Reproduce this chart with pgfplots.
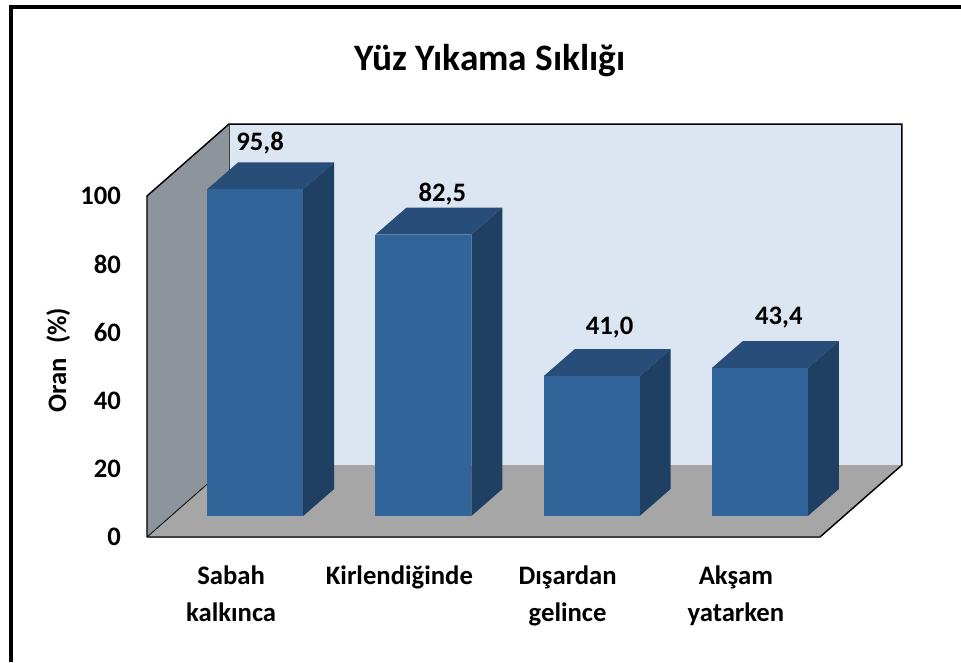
\documentclass[border=0pt]{standalone}
\usepackage{fontspec}
\setmainfont{Carlito}
\usepackage{pgfplots}
\pgfplotsset{compat=1.18}
\definecolor{cWall}{HTML}{DCE6F2}
\definecolor{cSide}{HTML}{8D949B}
\definecolor{cFloor}{HTML}{A6A6A6}
\definecolor{cFront}{HTML}{31659A}
\definecolor{cTop}{HTML}{274D78}
\definecolor{cRight}{HTML}{1F3F63}
\newcommand{\lbl}{\fontsize{20}{28}\selectfont\bfseries}
\pgfplotsset{
  base3d/.style={
    scale only axis, width=504.75pt, height=255.75pt,
    xmin=-0.5, xmax=3.5, ymin=0, ymax=100, clip=false,
  },
  vlabel/.style 2 args={
    ybar, bar width=72pt, bar shift=0pt, fill=cFront, draw=none,
    nodes near coords, nodes near coords style={
      font=\lbl, anchor=center, xshift=#1, yshift=#2, text=black,
      /pgf/number format/.cd, use comma, fixed, fixed zerofill, precision=1, assume math mode=true},
  },
}
\begin{document}
\begin{tikzpicture}
\useasboundingbox (0,0) rectangle (720.75pt,496.5pt);
\fill[black] (6.75pt,0pt) rectangle (9.75pt,492.75pt);
\fill[black] (6.75pt,489.75pt) rectangle (720.75pt,492.75pt);
% frame: walls, floor, ticks
\begin{axis}[base3d, at={(110.25pt,93.75pt)}, anchor=south west,
  axis line style={draw=none}, major tick length=0pt,
  xtick={0,1,2,3},
  xticklabels={Sabah\\kalkınca, Kirlendiğinde\\\strut, Dışardan\\gelince, Akşam\hspace{24pt}\\yatarken},
  xticklabel style={font=\lbl, align=center, text width=120pt, anchor=north, yshift=-18pt},
  ytick={0,20,40,60,80,100},
  yticklabel style={font=\lbl, anchor=east, xshift=-16pt, /pgf/number format/assume math mode=true},
  ylabel={Oran\hspace{6pt} (\%)},
  ylabel style={font=\fontsize{20}{22}\selectfont\bfseries, at={(axis description cs:-0.132,0.519)}, anchor=center},
  title={Yüz Yıkama Sıklığı},
  title style={font=\fontsize{28}{32}\selectfont\bfseries, at={(axis description cs:0.51,1.375)}, anchor=center},
]
\addplot[fill=cWall,draw=none] coordinates {(-0.013,21.1)(3.987,21.1)(3.987,121.1)(-0.013,121.1)} -- cycle;
\addplot[fill=cSide,draw=none] coordinates {(-0.5,0)(-0.013,21.1)(-0.013,121.1)(-0.5,100)} -- cycle;
\addplot[fill=cFloor,draw=none] coordinates {(-0.5,0)(3.5,0)(3.987,21.1)(-0.013,21.1)} -- cycle;
\addplot[black!75,line width=0.6pt] coordinates {(-0.013,21.1)(-0.013,121.1)};
\addplot[black,line width=1.1pt] coordinates {(-0.5,0)(-0.5,100)(-0.013,121.1)(3.987,121.1)(3.987,21.1)(3.5,0)};
\addplot[black!75,line width=1.2pt] coordinates {(-0.5,0)(3.5,0)};
\addplot[black,line width=0.6pt] coordinates {(-0.5,0)(-0.013,21.1)};
\end{axis}
% bars, shifted back onto the floor
\begin{axis}[base3d, at={(128.25pt,109.5pt)}, anchor=south west, hide axis]
\addplot[fill=cTop,draw=none] coordinates {(-0.2853,95.8)(0.2853,95.8)(0.4696,103.72)(-0.101,103.72)} -- cycle;
\addplot[fill=cRight,draw=none] coordinates {(0.2853,0)(0.4696,7.92)(0.4696,103.72)(0.2853,95.8)} -- cycle;
\addplot[vlabel={3.75pt}{34.5pt}] coordinates {(0,95.8)};
\addplot[fill=cTop,draw=none] coordinates {(0.7147,82.5)(1.2853,82.5)(1.4696,90.42)(0.899,90.42)} -- cycle;
\addplot[fill=cRight,draw=none] coordinates {(1.2853,0)(1.4696,7.92)(1.4696,90.42)(1.2853,82.5)} -- cycle;
\addplot[vlabel={14.25pt}{30.75pt}] coordinates {(1,82.5)};
\addplot[fill=cTop,draw=none] coordinates {(1.7147,41.0)(2.2853,41.0)(2.4696,48.92)(1.899,48.92)} -- cycle;
\addplot[fill=cRight,draw=none] coordinates {(2.2853,0)(2.4696,7.92)(2.4696,48.92)(2.2853,41.0)} -- cycle;
\addplot[vlabel={13.5pt}{36.75pt}] coordinates {(2,41.0)};
\addplot[fill=cTop,draw=none] coordinates {(2.7147,43.4)(3.2853,43.4)(3.4696,51.32)(2.899,51.32)} -- cycle;
\addplot[fill=cRight,draw=none] coordinates {(3.2853,0)(3.4696,7.92)(3.4696,51.32)(3.2853,43.4)} -- cycle;
\addplot[vlabel={14.25pt}{37.5pt}] coordinates {(3,43.4)};
\end{axis}
\end{tikzpicture}
\end{document}
